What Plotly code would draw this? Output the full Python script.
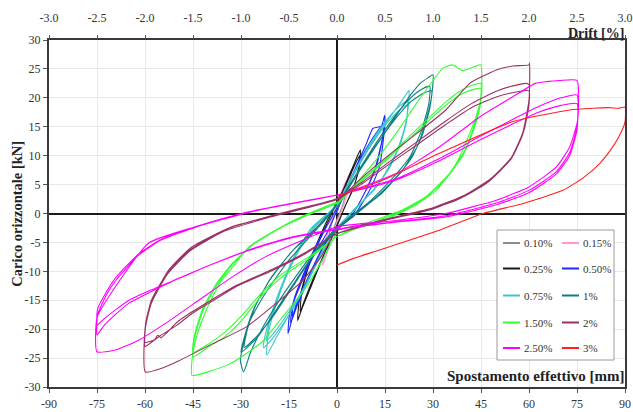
import plotly.graph_objects as go

# ---------------- data ----------------
levels = ["0.10%", "0.15%", "0.25%", "0.50%", "0.75%", "1%", "1.50%", "2%", "2.50%", "3%"]
colors = ["#8c8c8c", "#ff99cc", "#1a1a1a", "#1f2bff", "#3cc8c8", "#0e7f80",
          "#33ff33", "#993366", "#ff00ff", "#ff2020"]

drift_ticks = [-3.0, -2.5, -2.0, -1.5, -1.0, -0.5, 0.0, 0.5, 1.0, 1.5, 2.0, 2.5, 3.0]
disp_ticks = [-90, -75, -60, -45, -30, -15, 0, 15, 30, 45, 60, 75, 90]
load_ticks = [-30, -25, -20, -15, -10, -5, 0, 5, 10, 15, 20, 25, 30]

# (displacement [mm], load [kN]) points along each drift-level path
loop_010 = [(0, 0), (1.5, 3), (3, 5.5), (2.6, 3.2), (1.5, 1), (0, -1), (-1.5, -3.5), (-3, -6.5),
            (-2.6, -4), (-1.5, -1.5), (0, 1), (1.5, 3.3), (2.9, 5), (2.5, 3), (1.4, 0.8), (0, -1.2),
            (-1.5, -3.6), (-2.9, -6), (-2.5, -3.8), (-1.4, -1.2), (0, 1)]
loop_015 = [(0, 1), (2, 4.5), (4.5, 7.5), (4, 4.8), (2.2, 1.6), (0, -1.5), (-2, -5), (-4.5, -9),
            (-4, -5.8), (-2.2, -2), (0, 1.5), (2, 4.6), (4.4, 7.2), (3.9, 4.5), (2, 1.4), (0, -1.6),
            (-2, -5), (-4.4, -8.6), (-3.9, -5.5), (-2, -1.8), (0, 1.5)]
loop_025 = [(0, 1.5), (3, 5.5), (5.5, 8.8), (7.3, 11), (7, 8.2), (5.5, 5), (3, 1.8), (0, -2),
            (-4, -7), (-8, -12.5), (-11, -16.5), (-12.3, -18.5), (-11.8, -15), (-9.5, -10),
            (-5.5, -4.5), (-2, -0.5), (0, 2), (3, 5.2), (5.5, 8.3), (7, 10), (6.6, 7.5), (5, 4.2),
            (2.5, 1.2), (0, -2.2), (-4, -7), (-8, -12), (-10.5, -15.5), (-11.5, -17), (-11, -13.5),
            (-8.5, -8.5), (-5, -3.5), (-2, 0), (0, 2)]
loop_050 = [(0, 0.5), (2.9, 4), (5, 6.9), (9.2, 12.1), (11.2, 14.7), (13.9, 15.1), (14.9, 17),
            (14.9, 15), (13.3, 8.1), (10.2, 4), (5, -0.6), (0, -2.3), (-3.3, -4.6), (-8.5, -10.4),
            (-12.7, -15.6), (-15.3, -20.8), (-14.8, -17.3), (-11.7, -12.7), (-7.5, -7.5),
            (-3.3, -3.5), (0, 0.5), (3, 4.5), (6, 8), (10, 12), (13, 14.5), (14.5, 15.5),
            (14.2, 13), (12.5, 8.5), (9.5, 4.5), (5, 0), (0, -2.5), (-4, -5.5), (-9, -11.5),
            (-12.5, -16), (-14.5, -19), (-14, -16), (-11, -11.5), (-7, -6.5), (-3, -2), (0, 1),
            (4, 5.5), (8, 9.5), (12, 13), (14.5, 15), (14, 12.5), (12, 8), (9, 4), (4.5, -0.5),
            (0, -2.5), (-4, -5.5), (-9, -11.5), (-12.5, -15.5), (-14, -18), (-13.5, -15),
            (-10.5, -10.5), (-6.5, -5.5), (-2.5, -1.5), (0, 1)]
loop_075 = [(0, 1), (5, 6.5), (10, 11.5), (15, 15.5), (19, 18.5), (21.5, 20.5), (22.5, 21.3),
            (22.3, 18.5), (21, 14.5), (18.5, 10.5), (14, 6), (8, 2), (0, -2.5), (-5, -7),
            (-10, -12.5), (-15, -17.5), (-19, -21.5), (-22, -24.5), (-21.5, -21), (-20, -17.5),
            (-17, -12.5), (-13, -7.5), (-8, -3), (0, 1.5), (5, 6.8), (10, 11.8), (15, 15.8),
            (19, 18.3), (22, 19.5), (21.8, 16.5), (20, 12.5), (17, 8.5), (12, 4.5), (6, 1),
            (0, -2.5), (-5, -7.2), (-10, -12.8), (-15, -17.5), (-20, -21.5), (-23, -23.2),
            (-22, -20), (-20, -16.5), (-17, -12), (-13, -7), (-8, -2.5), (0, 1.5), (5, 6.5),
            (10, 11.3), (15, 15.2), (19, 17.6), (22, 18.8), (21.7, 15.8), (19.8, 12), (16.5, 8),
            (11.5, 4), (5.5, 0.8), (0, -2.5), (-5, -7), (-10, -12.5), (-15, -17), (-19.5, -20.5),
            (-22, -22), (-21.2, -19), (-19.5, -16), (-16.5, -11.5), (-12.5, -6.8), (-7.5, -2.5),
            (0, 1.5)]
loop_100 = [(0, 1), (6, 6.5), (12, 11.5), (18, 16.5), (23, 20.5), (26, 22.5), (28.5, 23.5),
            (30, 24), (29.5, 20), (27.5, 15.5), (25, 11.5), (20.5, 7.5), (14, 3.5), (7, 0.5),
            (0, -2.5), (-7, -6.5), (-13, -11), (-18, -15), (-23, -19.5), (-27, -24),
            (-29.2, -27.4), (-30.2, -25.4), (-29.7, -23.7), (-27.6, -19), (-22.4, -13.8),
            (-15.1, -8.1), (-6.8, -3), (0, 1.5), (6, 6.8), (12, 12), (18, 16.8), (23, 20),
            (26.5, 21.5), (29, 22), (28.7, 19), (26.5, 14.5), (23, 10), (18, 6.5), (11, 2.5),
            (0, -2.5), (-7, -6.8), (-14, -12.5), (-20, -17.5), (-25, -21.5), (-30, -24),
            (-28.5, -20.5), (-26, -16.5), (-21, -11.5), (-14, -6.5), (-6, -2.5), (0, 1.5),
            (6, 6.5), (12, 11.6), (18, 16.2), (23, 19.3), (27, 20.8), (29.5, 21.2), (29, 18.2),
            (26.8, 13.8), (23.2, 9.5), (18, 6), (11, 2.2), (0, -2.8), (-7, -7), (-14, -12.8),
            (-20, -17.8), (-25, -21.2), (-29, -23.2), (-28, -20), (-25.5, -16), (-20.5, -11),
            (-13.5, -6.2), (-6, -2.2), (0, 1.5)]
loop_150 = [(0, 1.5), (4, 4), (8, 6.5), (13.3, 10), (18.5, 13.9), (24.8, 19), (30, 23),
            (33, 25.1), (36, 25.7), (38, 25.1), (39.3, 24.7), (41, 25), (43, 25.4), (44.6, 25.7),
            (45, 25.7), (45.2, 20.5), (43.6, 17), (41.5, 13.9), (37.3, 8.7), (31, 4), (23.7, 1.2),
            (13.3, -1.5), (0, -3.5), (-4, -7.5), (-9.6, -12.7), (-17.9, -18.5), (-23, -22),
            (-28.3, -24.2), (-33.5, -26), (-38.8, -27.1), (-45.3, -28), (-45.2, -24.8),
            (-43.9, -21.3), (-40.8, -16.7), (-36.7, -12.1), (-32.5, -9.2), (-27.6, -5.8),
            (-17.3, -2.3), (-8, 0), (0, 1.8), (8, 6), (15, 9.3), (22, 13), (29, 16.7),
            (34.2, 19.4), (39.4, 21.5), (43, 22.3), (45, 22.5), (44.8, 19.5), (43, 15.5),
            (40, 11), (35, 6.8), (28, 3), (20, 0.5), (10, -1.5), (0, -4), (-8, -7.5),
            (-17.3, -11), (-24, -14.5), (-29.8, -18.5), (-35, -21.3), (-40, -23), (-45, -24.8),
            (-44.5, -21.5), (-42, -17), (-38, -12.8), (-33, -9), (-26, -5.3), (-17, -2.3),
            (-8, 0), (0, 2), (8, 5.8), (15, 9), (22, 12.6), (29, 16.2), (34.2, 18.8),
            (39.4, 20.8), (43, 21.5), (45, 21.6), (44.7, 18.5), (42.8, 14.6), (39.6, 10.3),
            (34.5, 6.3), (27.5, 2.7), (19.5, 0.2), (10, -1.8), (0, -4), (-8, -7.2),
            (-17.3, -10.5), (-24, -14), (-30, -17.8), (-35, -20.5), (-40, -22.5), (-45, -24),
            (-44.5, -21), (-42, -16.5), (-38, -12.4), (-33, -8.8), (-26, -5.2), (-17, -2.2),
            (-8, 0.2), (0, 2)]
loop_200 = [(0, 2), (8, 6.3), (16, 10), (23.7, 13.3), (34, 17.9), (41.5, 22.5), (49.8, 24.8),
            (55, 25.5), (60, 25.7), (60.2, 26), (60, 19.6), (58, 13.9), (54, 9.2), (46.7, 5.2),
            (37.3, 2.3), (23.7, 0), (12, -1.5), (0, -3), (-5, -7.5), (-10.6, -11.5),
            (-17.9, -15), (-28.3, -19.6), (-38.8, -22.5), (-49.2, -25.4), (-55, -26.8),
            (-59.9, -27.4), (-60, -20.2), (-57.8, -15), (-52.6, -9.8), (-45.4, -5.8),
            (-32.9, -2.3), (-17.3, 0), (0, 2.6), (8, 5.5), (16, 8.8), (24, 12), (34, 16),
            (42, 19), (50, 21.2), (56, 22.2), (59, 22.5), (60, 22.3), (60, 19), (58.5, 14.5),
            (55, 10), (48, 6), (40, 3.2), (30, 1), (15, -1), (0, -3.5), (-10, -7), (-20, -9.8),
            (-31.7, -12.7), (-40, -15.5), (-45.3, -17.3), (-50, -19.3), (-55.7, -21.3),
            (-60, -23), (-59.8, -19.5), (-58, -15.5), (-53, -10.5), (-46, -6.5), (-35, -3),
            (-20, -0.5), (0, 2.4), (8, 5.2), (16, 8.4), (24, 11.5), (34, 15.4), (42, 18.3),
            (50, 20.2), (56, 21), (60, 21.2), (59.8, 18), (58, 13.6), (54.5, 9.5), (47.5, 5.7),
            (39.5, 3), (30, 0.8), (15, -1.2), (0, -3.5), (-10, -6.8), (-20, -9.6),
            (-31.7, -12.5), (-40, -15.2), (-45.3, -17), (-50, -18.8), (-53, -20.5),
            (-55, -21.5), (-56, -21), (-57, -21.8), (-60, -22.3), (-59.8, -19), (-58, -15),
            (-53, -10.2), (-46, -6.3), (-35, -2.8), (-20, -0.3), (0, 2.4)]
loop_250 = [(0, 3), (18.5, 6.9), (32, 11.5), (44.6, 16.7), (55, 20.2), (62, 22.5), (65.4, 22.8),
            (69.6, 23), (75, 23), (75.2, 16.1), (72.7, 11.5), (68.5, 8), (60, 4.6), (49.8, 2.3),
            (34, 0), (17, -1.3), (0, -2.3), (-22.4, -7.5), (-32.8, -11), (-43.2, -15),
            (-53.6, -19), (-62, -21.9), (-69.3, -23.6), (-75, -23.9), (-75, -18), (-69.3, -12.7),
            (-58.8, -5.1), (-44.3, -2.3), (-27.6, 0.3), (0, 3.2), (18.5, 6), (32, 9.5),
            (44.6, 13.3), (55, 16.3), (63, 18.5), (70, 20), (75, 20.5), (75, 15), (72.7, 10.5),
            (68.5, 7.2), (60, 4), (49.8, 1.8), (34, -0.4), (17, -1.5), (0, -2.7), (-15, -4.2),
            (-27.6, -6.3), (-40, -9), (-48.5, -11), (-58, -13.5), (-65, -15.5), (-69.3, -17.5),
            (-73, -19.5), (-75, -21), (-74.8, -17.5), (-72, -14), (-69, -11.5), (-62, -7.2),
            (-55, -4.6), (-44.3, -2.4), (-27.6, 0.2), (0, 3.2), (18.5, 5.8), (32, 9.1),
            (44.6, 12.7), (55, 15.5), (63, 17.5), (70, 18.7), (75, 19), (75, 14.5), (72.7, 10),
            (68.5, 6.8), (60, 3.6), (49.8, 1.5), (34, -0.6), (17, -1.6), (0, -2.8), (-15, -4.3),
            (-27.6, -6.4), (-40, -9), (-48.5, -11), (-58, -13.2), (-65, -15), (-69.3, -16.7),
            (-73, -18.3), (-75, -19.3), (-74.8, -16.5), (-72, -13.5), (-69, -11), (-62, -7),
            (-55, -4.5), (-44.3, -2.3), (-27.6, 0.3), (0, 3.2)]
loop_300 = [(0, 3), (14.4, 5.8), (32, 10.4), (55, 15.9), (72.7, 17.9), (80, 18.2), (85, 18.3),
            (88, 18.2), (90, 18.4), (90, 15.8), (88, 13.2), (85.5, 11), (82, 8.6), (77, 6.2),
            (70.6, 4), (58, 1.7), (45.6, 0), (32, -2.9), (13.3, -6.3), (5, -7.8), (0, -8.9)]

loops = [loop_010, loop_015, loop_025, loop_050, loop_075,
         loop_100, loop_150, loop_200, loop_250, loop_300]

# ---------------- figure ----------------
FONT = "Liberation Serif"
fig = go.Figure()

for name, col, pts in zip(levels, colors, loops):
    xs = [p[0] for p in pts]
    ys = [p[1] for p in pts]
    fig.add_trace(go.Scatter(x=xs, y=ys, mode="lines", name=name,
                             line=dict(color=col, width=1.1, shape="spline", smoothing=0.5),
                             showlegend=False, hoverinfo="skip"))

# invisible trace to carry the top drift axis
fig.add_trace(go.Scatter(x=[drift_ticks[0], drift_ticks[-1]], y=[0, 0], xaxis="x2",
                         mode="lines", line=dict(width=0), showlegend=False, hoverinfo="skip"))

tickfont = dict(family=FONT, size=12, color="#333333")
fig.update_layout(
    width=633, height=412,
    margin=dict(l=49, r=8, t=40, b=25, autoexpand=False),
    paper_bgcolor="white", plot_bgcolor="white",
    font=dict(family=FONT, size=12, color="#333333"),
    xaxis=dict(range=[-90, 90], tickvals=disp_ticks, ticktext=[str(v) for v in disp_ticks],
               showgrid=True, gridcolor="#e8e8e8", gridwidth=1,
               zeroline=True, zerolinecolor="#1a1a1a", zerolinewidth=1.6,
               showline=True, linecolor="#3a3a3a", linewidth=2, mirror=True,
               ticks="outside", ticklen=4, tickcolor="#555555", automargin=False,
               ticklabelstandoff=1, tickfont=tickfont),
    xaxis2=dict(range=[-3, 3], overlaying="x", side="top", tickvals=drift_ticks,
                ticktext=[f"{v:.1f}" for v in drift_ticks], showgrid=False, zeroline=False,
                ticks="outside", ticklen=4, tickcolor="#555555", showline=False,
                ticklabelstandoff=8, automargin=False, tickfont=tickfont),
    yaxis=dict(range=[-30, 30], tickvals=load_ticks, ticktext=[str(v) for v in load_ticks],
               showgrid=True, gridcolor="#e8e8e8", gridwidth=1,
               zeroline=True, zerolinecolor="#1a1a1a", zerolinewidth=1.6,
               showline=True, linecolor="#3a3a3a", linewidth=2, mirror=True,
               ticks="outside", ticklen=4, tickcolor="#555555", automargin=False,
               tickfont=tickfont),
)

annotations = [
    dict(text="<b>Drift [%]</b>", xref="paper", yref="paper", x=1.0, y=1.0,
         xanchor="right", yanchor="bottom", yshift=-3, xshift=1, showarrow=False,
         font=dict(family=FONT, size=14, color="#222222")),
    dict(text="<b>Spostamento effettivo [mm]</b>", xref="paper", yref="paper", x=1.0, y=0.0,
         xanchor="right", yanchor="bottom", yshift=1, xshift=1, showarrow=False,
         font=dict(family=FONT, size=15, color="#222222")),
    dict(text="<b>Carico orizzontale [kN]</b>", xref="paper", yref="paper",
         x=-0.057, y=0.5, xanchor="center", yanchor="middle", textangle=-90, showarrow=False,
         font=dict(family=FONT, size=14.5, color="#222222")),
]

# legend box drawn as shapes (two columns, five rows)
W, H = 576.0, 347.0
def px_x(p):
    return (p - 49) / W
def px_y(p):
    return (387 - p) / H

shapes = [dict(type="rect", xref="paper", yref="paper", x0=px_x(497), x1=px_x(614),
               y0=px_y(360), y1=px_y(230), fillcolor="white",
               line=dict(color="#9a9a9a", width=1), layer="above")]
row_y = [243, 268.5, 295.5, 322.5, 348]
col_line = [(503, 520), (562, 579)]
col_text = [522, 581]
for i, (name, col) in enumerate(zip(levels, colors)):
    r, c = divmod(i, 2)
    shapes.append(dict(type="line", xref="paper", yref="paper",
                       x0=px_x(col_line[c][0]), x1=px_x(col_line[c][1]),
                       y0=px_y(row_y[r]), y1=px_y(row_y[r]),
                       line=dict(color=col, width=2), layer="above"))
    annotations.append(dict(text=name, xref="paper", yref="paper", x=px_x(col_text[c]),
                            y=px_y(row_y[r]), xanchor="left", yanchor="middle",
                            showarrow=False, font=dict(family=FONT, size=11, color="#333333")))

fig.update_layout(shapes=shapes, annotations=annotations)
fig.write_html("out.html", config={"displayModeBar": False},
               post_script="document.body.style.margin='0';")
